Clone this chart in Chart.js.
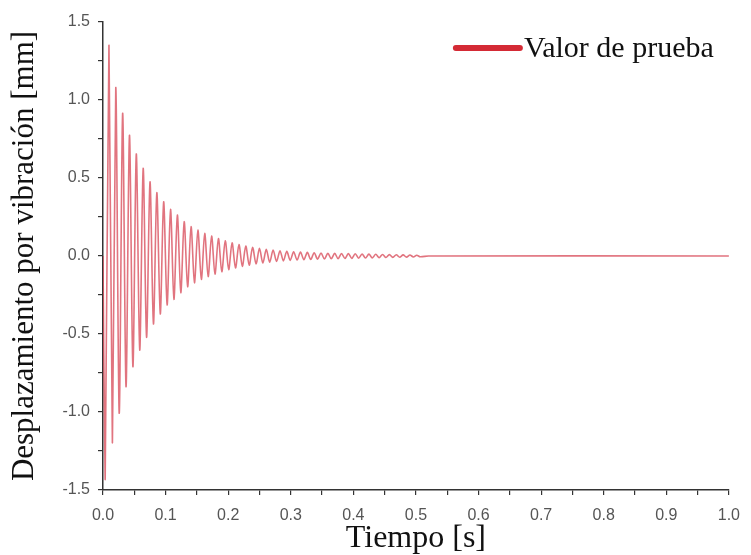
<!DOCTYPE html>
<html>
<head>
<meta charset="utf-8">
<script src="https://cdn.jsdelivr.net/npm/chart.js@4.4.1/dist/chart.umd.min.js"></script>
<style>
  html, body { margin: 0; padding: 0; background: #fff; }
  canvas { display: block; }
</style>
</head>
<body>
<canvas id="chart" width="751" height="555"></canvas>
<script>
// values (time in s, displacement in mm)
const seriesLabel = 'Valor de prueba';

const leadTimes = [0.0, 0.0035];
const leadValues = [0.0, -1.43];

const peakTimes = [
  0.0095, 0.0204, 0.0314, 0.0423, 0.0532, 0.0642, 0.0751, 0.0860, 0.0969, 0.1079,
  0.1188, 0.1297, 0.1407, 0.1516, 0.1625, 0.1735, 0.1844, 0.1953, 0.2062, 0.2172,
  0.2281, 0.2390, 0.2500, 0.2609, 0.2718, 0.2828, 0.2937, 0.3046, 0.3155, 0.3265,
  0.3374, 0.3483, 0.3593, 0.3702, 0.3811, 0.3920, 0.4030, 0.4139, 0.4248, 0.4358,
  0.4467, 0.4576, 0.4686, 0.4795, 0.4904, 0.5013
];
const peakValues = [
  1.35, 1.08, 0.915, 0.774, 0.654, 0.562, 0.476, 0.406, 0.348, 0.299,
  0.263, 0.22, 0.188, 0.166, 0.145, 0.128, 0.112, 0.097, 0.085, 0.074,
  0.064, 0.056, 0.049, 0.043, 0.038, 0.034, 0.030, 0.027, 0.025, 0.023,
  0.021, 0.019, 0.018, 0.017, 0.016, 0.015, 0.014, 0.013, 0.012, 0.011,
  0.010, 0.009, 0.008, 0.007, 0.006, 0.005
];

const troughTimes = [
  0.0150, 0.0259, 0.0368, 0.0478, 0.0587, 0.0696, 0.0806, 0.0915, 0.1024, 0.1133,
  0.1243, 0.1352, 0.1461, 0.1571, 0.1680, 0.1789, 0.1898, 0.2008, 0.2117, 0.2226,
  0.2336, 0.2445, 0.2554, 0.2663, 0.2773, 0.2882, 0.2991, 0.3101, 0.3210, 0.3319,
  0.3428, 0.3538, 0.3647, 0.3756, 0.3866, 0.3975, 0.4084, 0.4194, 0.4303, 0.4412,
  0.4521, 0.4631, 0.4740, 0.4849, 0.4959, 0.5068
];
const troughValues = [
  -1.197, -1.008, -0.838, -0.71, -0.603, -0.521, -0.436, -0.372, -0.314, -0.278,
  -0.235, -0.197, -0.172, -0.150, -0.132, -0.116, -0.101, -0.088, -0.077, -0.067,
  -0.059, -0.051, -0.045, -0.040, -0.035, -0.031, -0.028, -0.026, -0.024, -0.022,
  -0.020, -0.019, -0.018, -0.017, -0.016, -0.015, -0.014, -0.013, -0.012, -0.011,
  -0.010, -0.009, -0.008, -0.007, -0.006, -0.005
];

const tailTimes = [0.52, 1.0];
const tailValues = [0.0, 0.0];

const xMin = 0, xMax = 1.0, xStep = 0.05;
const yMin = -1.5, yMax = 1.5, yStep = 0.25;

const LINE_COLOR = 'rgba(214, 62, 78, 0.72)';
const LEGEND_COLOR = '#d42a35';
const AXIS_COLOR = '#333';
const TICK_TEXT = '#555';
const SERIF = '"Liberation Serif", "Times New Roman", serif';
const SANS = '"Liberation Sans", Arial, sans-serif';

function pairs(xs, ys) {
  return xs.map((x, i) => ({ x: x, y: ys[i] }));
}

const points = []
  .concat(pairs(leadTimes, leadValues))
  .concat(pairs(peakTimes, peakValues))
  .concat(pairs(troughTimes, troughValues))
  .concat(pairs(tailTimes, tailValues))
  .sort((a, b) => a.x - b.x);

// legend drawn by hand: thick red bar right next to the serif text
const legendPlugin = {
  id: 'sampleLegend',
  afterDraw(chart) {
    const { ctx, chartArea } = chart;
    const x0 = chartArea.right - 273;
    const y0 = chartArea.top + 26;
    ctx.save();
    ctx.strokeStyle = LEGEND_COLOR;
    ctx.lineWidth = 6;
    ctx.lineCap = 'round';
    ctx.beginPath();
    ctx.moveTo(x0, y0);
    ctx.lineTo(x0 + 64, y0);
    ctx.stroke();
    ctx.fillStyle = '#111';
    ctx.font = '30px ' + SERIF;
    ctx.textBaseline = 'alphabetic';
    ctx.fillText(chart.data.datasets[0].label, x0 + 68, y0 + 9);
    ctx.restore();
  }
};

const majorOnly = (value, index) => (index % 2 === 0 ? Number(value).toFixed(1) : '');

new Chart(document.getElementById('chart'), {
  type: 'line',
  data: {
    datasets: [{
      label: seriesLabel,
      data: points,
      borderColor: LINE_COLOR,
      borderWidth: 1.6,
      pointRadius: 0,
      tension: 0.3,
      fill: false
    }]
  },
  options: {
    responsive: false,
    animation: false,
    layout: { padding: { top: 22, right: 18, left: 0, bottom: 0 } },
    plugins: {
      legend: { display: false },
      tooltip: { enabled: false }
    },
    scales: {
      x: {
        type: 'linear',
        min: xMin,
        max: xMax,
        afterFit: (s) => { s.height = 65; },
        border: { display: true, color: AXIS_COLOR, width: 1.5 },
        grid: { display: true, drawOnChartArea: false, drawTicks: true, tickLength: 5, color: AXIS_COLOR, lineWidth: 1.2 },
        ticks: {
          stepSize: xStep,
          autoSkip: false,
          maxRotation: 0,
          padding: 11,
          color: TICK_TEXT,
          font: { family: SANS, size: 16 },
          callback: majorOnly
        },
        title: {
          display: true,
          text: 'Tiempo [s]',
          color: '#111',
          font: { family: SERIF, size: 32, lineHeight: 1.0 },
          padding: { top: 0, bottom: 0 }
        }
      },
      y: {
        min: yMin,
        max: yMax,
        afterFit: (s) => { s.width = 103; },
        border: { display: true, color: AXIS_COLOR, width: 1.5 },
        grid: { display: true, drawOnChartArea: false, drawTicks: true, tickLength: 5, color: AXIS_COLOR, lineWidth: 1.2 },
        ticks: {
          stepSize: yStep,
          autoSkip: false,
          padding: 8,
          color: TICK_TEXT,
          font: { family: SANS, size: 16 },
          callback: majorOnly
        },
        title: {
          display: true,
          text: 'Desplazamiento por vibración [mm]',
          color: '#111',
          font: { family: SERIF, size: 31, lineHeight: 1.2 },
          padding: { top: 6, bottom: 0 }
        }
      }
    }
  },
  plugins: [legendPlugin]
});
</script>
</body>
</html>
